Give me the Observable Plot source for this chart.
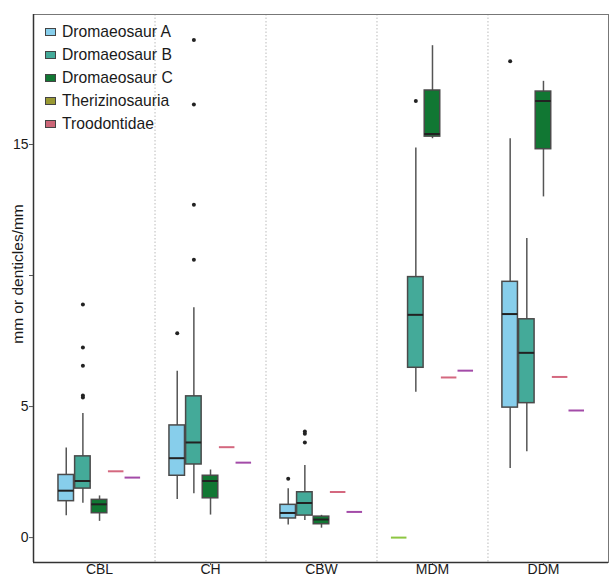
<!DOCTYPE html>
<html><head><meta charset="utf-8">
<script src="https://cdn.jsdelivr.net/npm/d3@7"></script>
<script src="https://cdn.jsdelivr.net/npm/@observablehq/plot@0.6"></script>
<style>
body{margin:0;background:#fff;font-family:"Liberation Sans",Arial,sans-serif;}
#wrap{position:relative;width:609px;height:578px;}
#legend{position:absolute;left:45px;top:21px;font-size:15.7px;color:#1a1a1a;}
.item{height:22.9px;display:flex;align-items:center;}
.sw{width:9px;height:6px;border:1px solid #444;margin-right:6px;}
#ylab{position:absolute;left:18px;top:274px;transform:translate(-50%,-50%) rotate(-90deg);white-space:nowrap;font-size:15.5px;color:#1a1a1a;}
</style></head>
<body>
<div id="wrap"><div id="chart"></div><div id="legend"></div><div id="ylab">mm or denticles/mm</div></div>
<script>
const categories = ["CBL","CH","CBW","MDM","DDM"];
const series = ["Dromaeosaur A","Dromaeosaur B","Dromaeosaur C","Therizinosauria","Troodontidae"];
const legendColors = ["#87CEEB","#44AA99","#117733","#999933","#CC6677"];
const yTicks = [0,5,10,15];
const yTickLabels = ["0","5","","15"];

// box stats per category: [lower whisker, q1, median, q3, upper whisker]
const dromA = [[0.83,1.39,1.79,2.39,3.42],[1.45,2.36,3.03,4.28,6.35],[0.48,0.73,0.94,1.25,1.86],null,[2.64,4.96,8.53,9.76,15.22]];
const dromB = [[1.31,1.87,2.16,3.10,4.74],[1.67,2.79,3.63,5.39,8.77],[0.65,0.84,1.32,1.73,2.75],[5.55,6.48,8.50,9.94,14.87],[3.28,5.13,7.05,8.33,11.41]];
const dromC = [[0.62,0.93,1.27,1.44,1.59],[0.86,1.50,2.16,2.36,2.58],[0.36,0.51,0.69,0.80,0.85],[15.22,15.30,15.40,17.06,18.77],[13.00,14.82,16.66,17.02,17.41]];
// outliers per category
const outA = [[],[7.80],[2.25],[],[18.18]];
const outB = [[8.89,7.25,6.56,5.42,5.35],[18.99,16.53,12.70,10.60],[4.05,3.96,3.63],[16.66],[]];
const outC = [[],[],[],[],[]];
// single-value groups (drawn as a flat line)
const dromASingle = [null,null,null,0,null];
const therizinosauria = [2.53,3.45,1.74,6.11,6.13];
const troodontidae = [2.29,2.86,0.98,6.37,4.85];

const lineColors = {"Dromaeosaur A":"#8DC641","Therizinosauria":"#D4687F","Troodontidae":"#A34BA8"};
const boxStroke = "#4a4a4a";

const boxStats = [dromA, dromB, dromC];
const outStats = [outA, outB, outC];
const boxes = [], outliers = [], singles = [];
boxStats.forEach((arr, j) => arr.forEach((s, i) => {
  if (s) boxes.push({cat: categories[i], series: series[j], lo: s[0], q1: s[1], med: s[2], q3: s[3], hi: s[4]});
}));
outStats.forEach((arr, j) => arr.forEach((vals, i) => vals.forEach(v => outliers.push({cat: categories[i], series: series[j], v}))));
[[dromASingle, series[0]], [therizinosauria, series[3]], [troodontidae, series[4]]].forEach(([arr, s]) =>
  arr.forEach((v, i) => { if (v !== null) singles.push({cat: categories[i], series: s, v}); }));

const slot = 0.15, half = 0.07;
const xc = d => categories.indexOf(d.cat) + (series.indexOf(d.series) - 2) * slot;
const xDomain = [-0.595, 4.586];
const yDomain = [-0.95, 19.96];
const colorOf = d => legendColors[series.indexOf(d.series)];

const chart = Plot.plot({
  width: 609, height: 578,
  marginTop: 14, marginBottom: 16, marginLeft: 33, marginRight: 1,
  style: {fontFamily: "'Liberation Sans', Arial, sans-serif", color: "#1a1a1a", background: "#fff"},
  x: {domain: xDomain, axis: null},
  y: {domain: yDomain, axis: null},
  marks: [
    Plot.ruleX(d3.range(categories.length - 1).map(i => i + 0.5), {stroke: "#bbb", strokeDasharray: "1.5,2"}),
    Plot.ruleX(boxes, {x: xc, y1: "lo", y2: "hi", stroke: "#555", strokeWidth: 1.5}),
    Plot.rect(boxes, {x1: d => xc(d) - half, x2: d => xc(d) + half, y1: "q1", y2: "q3", fill: colorOf, stroke: boxStroke, strokeWidth: 1.5}),
    Plot.ruleY(boxes, {x1: d => xc(d) - half, x2: d => xc(d) + half, y: "med", stroke: "#222", strokeWidth: 2}),
    Plot.dot(outliers, {x: xc, y: "v", r: 2, fill: "#222", stroke: null}),
    Plot.ruleY(singles, {x1: d => xc(d) - half, x2: d => xc(d) + half, y: "v", stroke: d => lineColors[d.series], strokeWidth: 2}),
    Plot.frame({stroke: "#777", strokeWidth: 1}),
    Plot.ruleY([yDomain[0]], {stroke: "#333", strokeWidth: 1.5}),
    Plot.ruleX([xDomain[0]], {stroke: "#333", strokeWidth: 1.5}),
    Plot.axisX({ticks: d3.range(categories.length), tickFormat: i => categories[i], label: null, tickSize: 3, tickPadding: -1, fontSize: 14, stroke: "#555"}),
    Plot.axisY({ticks: yTicks, tickFormat: v => yTickLabels[yTicks.indexOf(v)], label: null, tickSize: 4, tickPadding: 1, fontSize: 14, stroke: "#555"})
  ]
});
document.getElementById("chart").appendChild(chart);

const legend = document.getElementById("legend");
series.forEach((s, i) => {
  const item = document.createElement("div");
  item.className = "item";
  const sw = document.createElement("span");
  sw.className = "sw";
  sw.style.background = legendColors[i];
  const t = document.createElement("span");
  t.textContent = s;
  item.appendChild(sw); item.appendChild(t);
  legend.appendChild(item);
});
</script>
</body></html>
